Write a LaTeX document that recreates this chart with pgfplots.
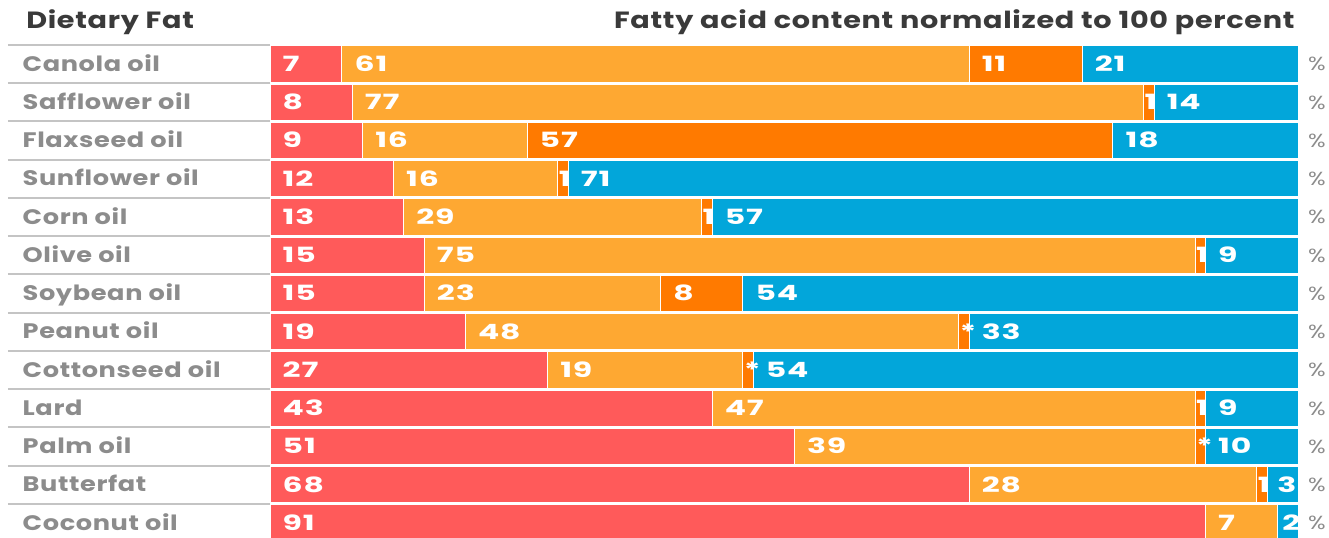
\documentclass[border=0pt]{standalone}
\usepackage{fontspec}
\setmainfont{Poppins}[FakeStretch=1.22, LetterSpace=3]
\newfontfamily\numfamily{Poppins}[FakeStretch=1.5, LetterSpace=4]
\usepackage{pgfplots}
\usepackage{pgfplotstable}
\pgfplotsset{compat=1.18}

\definecolor{satfat}{HTML}{FF5A5A}
\definecolor{monofat}{HTML}{FEA832}
\definecolor{omegathree}{HTML}{FF7A00}
\definecolor{omegasix}{HTML}{02A6DA}
\definecolor{labelgray}{HTML}{8C8C8C}
\definecolor{titlegray}{HTML}{3A3A3A}
\definecolor{rulegray}{HTML}{C4C4C4}

% a = saturated, b = monounsaturated, c = omega-3, d = omega-6 (percent)
% cl is the printed label of c ("*" marks a trace amount)
\pgfplotstableread[col sep=comma]{
row,name,a,b,c,d,cl
0,Canola oil,7,61,11,21,11
1,Safflower oil,8,77,1,14,1
2,Flaxseed oil,9,16,57,18,57
3,Sunflower oil,12,16,1,71,1
4,Corn oil,13,29,1,57,1
5,Olive oil,15,75,1,9,1
6,Soybean oil,15,23,8,54,8
7,Peanut oil,19,48,1,33,*
8,Cottonseed oil,27,19,1,54,*
9,Lard,43,47,1,9,1
10,Palm oil,51,39,1,10,*
11,Butterfat,68,28,1,3,1
12,Coconut oil,91,7,0,2,
}\fats

\newcommand{\valfont}{\numfamily\bfseries\fontsize{10.5}{10.5}\selectfont}

\begin{document}
\begin{tikzpicture}
\begin{axis}[
  x=5.14pt, y=19.125pt, y dir=reverse,
  xmin=-26.265, xmax=103.016, ymin=-1.673, ymax=12.392,
  hide axis, clip=false,
  bar shift=0pt,
  segment/.style={xbar, bar width=0.95, draw=white, line width=0.5pt, fill=#1},
  vallabel/.style={draw=none, mark=none, nodes near coords,
    point meta=explicit symbolic,
    every node near coord/.style={anchor=base west, inner sep=0pt,
      yshift=-3.7pt, text=white, font=\valfont}},
]
% bars drawn back to front as cumulative lengths
\addplot[segment=omegasix] table[x expr={min(\thisrow{a}+\thisrow{b}+\thisrow{c}+\thisrow{d},100)}, y=row] {\fats};
\addplot[segment=omegathree] table[x expr={\thisrow{a}+\thisrow{b}+\thisrow{c}}, y=row] {\fats};
\addplot[segment=monofat] table[x expr={\thisrow{a}+\thisrow{b}}, y=row] {\fats};
\addplot[segment=satfat] table[x=a, y=row] {\fats};

% value labels: inset from the segment's left edge, centred on narrow segments
\addplot[vallabel] table[x expr={ifthenelse(\thisrow{a}>3,1.2,\thisrow{a}/2-0.55)}, y=row, meta=a] {\fats};
\addplot[vallabel] table[x expr={\thisrow{a}+ifthenelse(\thisrow{b}>3,1.2,\thisrow{b}/2-0.55)}, y=row, meta=b] {\fats};
\addplot[vallabel] table[x expr={\thisrow{a}+\thisrow{b}+ifthenelse(\thisrow{c}>3,1.2,\thisrow{c}/2-0.45)}, y=row, meta=cl] {\fats};
\addplot[vallabel] table[x expr={\thisrow{a}+\thisrow{b}+\thisrow{c}+ifthenelse(\thisrow{d}>3,1.2,\thisrow{d}/2-0.55)}, y=row, meta=d] {\fats};

% category names
\addplot[draw=none, mark=none, nodes near coords, point meta=explicit symbolic,
  every node near coord/.style={anchor=base west, inner sep=0pt, yshift=-3.6pt,
    text=labelgray, font=\bfseries\fontsize{10.5}{10.5}\selectfont}]
  table[x expr=-24.1, y=row, meta=name] {\fats};
% percent signs
\addplot[draw=none, mark=none, nodes near coords={\%},
  every node near coord/.style={anchor=base west, inner sep=0pt, yshift=-3.4pt,
    text=labelgray, font=\fontsize{9.5}{9.5}\selectfont}]
  table[x expr=100.95, y=row] {\fats};

% row rules in the name column
\pgfplotsinvokeforeach{0,...,12}{
  \draw[rulegray, line width=1pt] (axis cs:-25.5,#1-0.5) -- (axis cs:0,#1-0.5);
}

\node[anchor=base west, inner sep=0pt, text=titlegray, font=\bfseries\fontsize{11.75}{11.75}\selectfont]
  at (axis cs:-23.75,-0.93) {Dietary Fat};
\node[anchor=base east, inner sep=0pt, text=titlegray, font=\bfseries\fontsize{11.75}{11.75}\selectfont]
  at (axis cs:99.7,-0.93) {Fatty acid content normalized to 100 percent};

\coordinate (bbA) at (axis cs:-26.265,-1.673);
\coordinate (bbB) at (axis cs:103.016,12.392);
\end{axis}
\pgfresetboundingbox
\useasboundingbox (bbA) rectangle (bbB);
\end{tikzpicture}
\end{document}
